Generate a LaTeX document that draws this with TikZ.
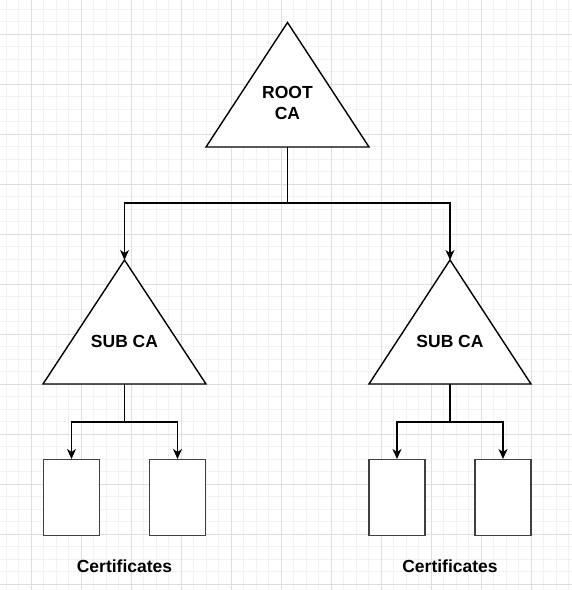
\documentclass[tikz,border=0pt]{standalone}
\usepackage{fontspec}
\setmainfont{Liberation Sans}
\usetikzlibrary{arrows.meta}
\begin{document}
\begin{tikzpicture}[x=1pt,y=-1pt,
  shapeline/.style={draw=black,line width=1.4pt,fill=white,line join=miter},
  conn/.style={draw=black,line width=1.4pt},
  arr/.style={conn,-{Stealth[length=10pt,width=9pt,inset=3pt]}},
  certbox/.style={draw=black!75,line width=1.4pt,fill=white,minimum width=56pt,minimum height=76pt,anchor=north,inner sep=0pt},
  lbl/.style={font=\bfseries\fontsize{17.5}{20.5}\selectfont,align=center,inner sep=0pt,text=black}]
\useasboundingbox (0,0) rectangle (572,590);
\fill[white] (0,0) rectangle (572,590);
% grid
\foreach \i in {0,...,46} {
  \draw[color=black!5,line width=0.9pt] (6+12.5*\i,0) -- (6+12.5*\i,590);
  \draw[color=black!5,line width=0.9pt] (0,9+12.5*\i) -- (572,9+12.5*\i);
}
\foreach \i in {0,...,11} {
  \draw[color=black!13,line width=0.9pt] (31+50*\i,0) -- (31+50*\i,590);
  \draw[color=black!13,line width=0.9pt] (0,34+50*\i) -- (572,34+50*\i);
}
% root triangle
\coordinate (rootTop) at (287.5,22.5);
\coordinate (rootBot) at (287.5,147);
\path[shapeline] (206,147) -- (rootTop) -- (369,147) -- cycle;
\node[lbl] (rootLbl) at (287.5,103) {ROOT\\CA};
% sub triangles
\coordinate (subLTop) at (124.5,260);
\coordinate (subLBot) at (124.5,384);
\path[shapeline] (43,384) -- (subLTop) -- (206,384) -- cycle;
\node[lbl] (subLLbl) at (124.5,341) {SUB CA};
\coordinate (subRTop) at (450,260);
\coordinate (subRBot) at (450,384);
\path[shapeline] (369,384) -- (subRTop) -- (531,384) -- cycle;
\node[lbl] (subRLbl) at (450,341) {SUB CA};
% certificates
\node[certbox] (c1) at (71.5,459) {};
\node[certbox] (c2) at (177.5,459) {};
\node[certbox] (c3) at (397,459) {};
\node[certbox] (c4) at (503,459) {};
\node[lbl] (certL) at (124.5,566) {Certificates};
\node[lbl] (certR) at (450,566) {Certificates};
% connectors
\coordinate (j0) at (287.5,203);
\draw[conn] (rootBot) -- (j0);
\draw[arr] (j0) -| (subLTop);
\draw[arr] (j0) -| (subRTop);
\coordinate (j1) at (124.5,422);
\draw[conn] (subLBot) -- (j1);
\draw[arr] (j1) -| (c1.north);
\draw[arr] (j1) -| (c2.north);
\coordinate (j2) at (450,422);
\draw[conn] (subRBot) -- (j2);
\draw[arr] (j2) -| (c3.north);
\draw[arr] (j2) -| (c4.north);
\end{tikzpicture}
\end{document}
